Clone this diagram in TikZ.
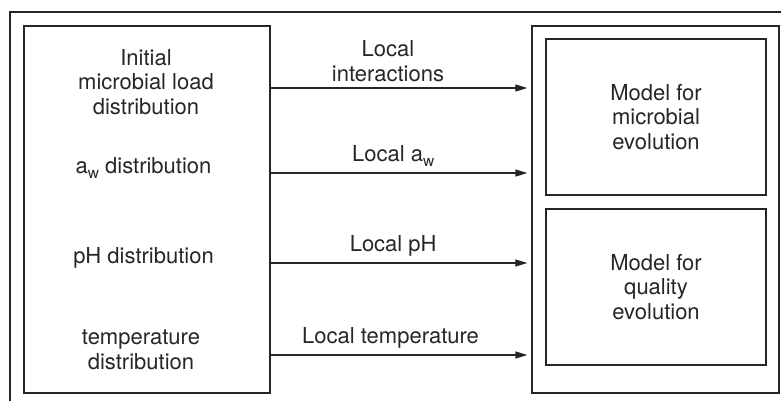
\documentclass[tikz,border=0pt]{standalone}
\usepackage{fontspec}
\setmainfont{TeX Gyre Heros}
\usetikzlibrary{positioning}
\usetikzlibrary{arrows.meta}
\definecolor{ink}{HTML}{262626}
\newcommand{\aw}{a\raisebox{-0.42ex}{\fontsize{15.5}{15.5}\selectfont w}}

\begin{document}
\begin{tikzpicture}[x=1pt,y=-1pt,
  every node/.style={text=ink,font=\fontsize{22}{24.5}\selectfont,align=center,inner sep=0pt},
  panel/.style={draw=ink,line width=1.3pt,minimum width=#1},
  feed/.style={draw=ink,line width=1.1pt,-{Stealth[length=12pt,width=7pt,inset=0pt]},shorten >=4pt}]
\clip (0,0) rectangle (781,400);
\useasboundingbox (0,0) rectangle (781,400);
% frame round everything, runs off the page on the right and below
\draw[ink,line width=1.6pt] (10,12) rectangle (800,420);

% input distributions
\node[panel=246pt,minimum height=367pt] (inputs) at (147,209.5) {};
\node (load) at (146,82) {Initial\\microbial load\\distribution};
\node (awd) at (143.5,168) {\aw{} distribution};
\node (phd) at (143.5,258) {pH distribution};
\node (tempd) at (141,350) {temperature\\distribution};

% models
\node[panel=247pt,minimum height=367pt] (models) at (655.5,209.5) {};
\node[panel=220pt,minimum height=156pt] (micro) at (656,117) {Model for\\microbial\\evolution};
\node[panel=220pt,minimum height=156pt] (quality) at (656,287) {Model for\\quality\\evolution};

% local values handed over to the models
\draw[feed] (inputs.east |- 0,88) -- node[pos=0.45,above=6pt] (inter) {Local\\interactions} (models.west |- 0,88);
\draw[feed] (inputs.east |- 0,173) -- node[pos=0.47,above=6pt] (localaw) {Local \aw} (models.west |- 0,173);
\draw[feed] (inputs.east |- 0,263) -- node[pos=0.47,above=6pt] (localph) {Local pH} (models.west |- 0,263);
\draw[feed] (inputs.east |- 0,355) -- node[pos=0.46,above=6pt] (localtemp) {Local temperature} (models.west |- 0,355);
\end{tikzpicture}
\end{document}
